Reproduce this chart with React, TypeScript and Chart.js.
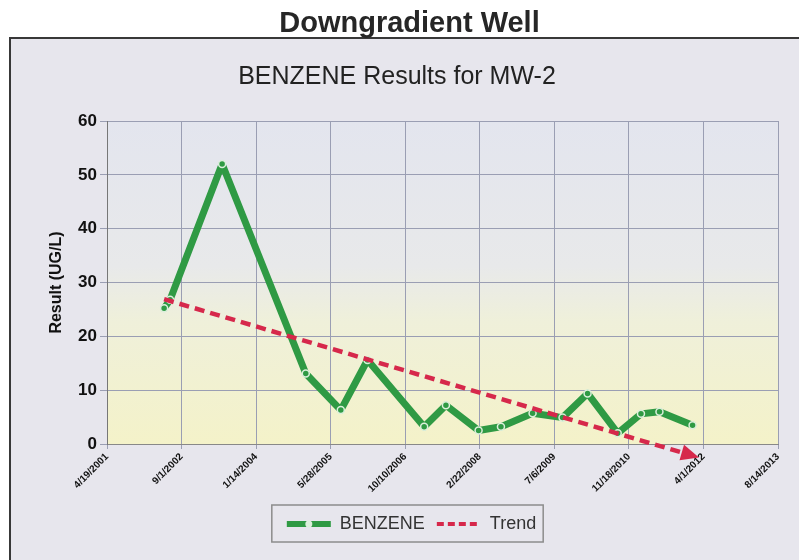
import React, { useEffect, useRef } from "react";
import { Chart, registerables } from "chart.js";

Chart.register(...registerables);

// ---- data ----
const sampleDates = [
  "5/7/2002", "6/16/2002", "5/31/2003", "12/12/2004", "8/4/2005", "1/30/2006",
  "2/14/2007", "7/10/2007", "2/14/2008", "7/13/2008", "2/10/2009", "8/30/2009",
  "2/14/2010", "9/4/2010", "2/7/2011", "6/11/2011", "1/19/2012",
];
const benzeneValues = [
  25.2, 26.8, 52, 13.1, 6.3, 15.6, 3.2, 7.2, 2.5, 3.2, 5.7, 4.9, 9.4, 2.0, 5.6, 6.0, 3.5,
];
const trendDates = ["5/7/2002", "12/29/2011"];
const trendValues = [26.9, -2.0];
const xTickLabels = [
  "4/19/2001", "9/1/2002", "1/14/2004", "5/28/2005", "10/10/2006",
  "2/22/2008", "7/6/2009", "11/18/2010", "4/1/2012", "8/14/2013",
];
const yMin = 0;
const yMax = 60;
const yStep = 10;
const seriesNames = ["BENZENE", "Trend"];

const FONT = '"Liberation Sans", Arial, Helvetica, sans-serif';
const GREEN = "#2f9a44";
const RED = "#d6284b";

function dayOf(s: string): number {
  const [m, d, y] = s.split("/").map(Number);
  return (Date.UTC(y, m - 1, d) - Date.UTC(2001, 3, 19)) / 86400000;
}

const panelPlugin = {
  id: "panelBg",
  beforeDraw(chart: any) {
    const { ctx, width, height, chartArea } = chart;
    ctx.save();
    ctx.fillStyle = "#ffffff";
    ctx.fillRect(0, 0, width, height);
    ctx.fillStyle = "#e7e6ed";
    ctx.fillRect(10, 38, width, height);
    ctx.strokeStyle = "#383838";
    ctx.lineWidth = 2;
    ctx.beginPath();
    ctx.moveTo(10, height + 5);
    ctx.lineTo(10, 38);
    ctx.lineTo(width + 5, 38);
    ctx.stroke();
    const g = ctx.createLinearGradient(0, chartArea.top, 0, chartArea.bottom);
    g.addColorStop(0, "#e3e5ee");
    g.addColorStop(0.45, "#e8e9ea");
    g.addColorStop(0.62, "#eff0da");
    g.addColorStop(1, "#f4f2c9");
    ctx.fillStyle = g;
    ctx.fillRect(chartArea.left, chartArea.top, chartArea.right - chartArea.left, chartArea.bottom - chartArea.top);
    ctx.restore();
  },
};

// arrowhead at the end of the trend line (drawn from the dataset's own scaled points)
const arrowPlugin = {
  id: "trendArrow",
  afterDatasetsDraw(chart: any) {
    const meta = chart.getDatasetMeta(0);
    const pts = meta.data;
    if (!pts || pts.length < 2) return;
    const a = pts[pts.length - 2];
    const b = pts[pts.length - 1];
    const dx = b.x - a.x;
    const dy = b.y - a.y;
    const len = Math.hypot(dx, dy) || 1;
    const ux = dx / len;
    const uy = dy / len;
    const px = -uy;
    const py = ux;
    const tipX = b.x + ux * 10;
    const tipY = b.y + uy * 10;
    const baseX = b.x - ux * 8;
    const baseY = b.y - uy * 8;
    const { ctx } = chart;
    ctx.save();
    ctx.fillStyle = RED;
    ctx.beginPath();
    ctx.moveTo(tipX, tipY);
    ctx.lineTo(baseX + px * 8, baseY + py * 8);
    ctx.lineTo(baseX - px * 8, baseY - py * 8);
    ctx.closePath();
    ctx.fill();
    ctx.restore();
  },
};

const legendBoxPlugin = {
  id: "legendBox",
  afterDraw(chart: any) {
    const lg = chart.legend;
    if (!lg || !lg.legendHitBoxes || !lg.legendHitBoxes.length) return;
    const hb = lg.legendHitBoxes;
    const first = hb[0];
    const last = hb[hb.length - 1];
    const { ctx } = chart;
    ctx.save();
    ctx.strokeStyle = "#8c8c8c";
    ctx.lineWidth = 1.5;
    const left = first.left - 15;
    const right = last.left + last.width + 7;
    const top = first.top - 10;
    const bottom = first.top + first.height + 9;
    ctx.strokeRect(left, top, right - left, bottom - top);
    const cx = first.left + 22;
    const cy = first.top + 9;
    ctx.beginPath();
    ctx.arc(cx, cy, 3.5, 0, Math.PI * 2);
    ctx.fillStyle = "#dcefdc";
    ctx.fill();
    ctx.restore();
  },
};

export default function App() {
  const ref = useRef<HTMLCanvasElement>(null);

  useEffect(() => {
    if (!ref.current) return;
    const benzeneData = sampleDates.map((d, i) => ({ x: dayOf(d), y: benzeneValues[i] }));
    const trendData = trendDates.map((d, i) => ({ x: dayOf(d), y: trendValues[i] }));
    const gridColor = "#9a9eb3";

    const chart = new Chart(ref.current, {
      type: "line",
      data: {
        datasets: [
          {
            label: seriesNames[1],
            data: trendData,
            borderColor: RED,
            backgroundColor: RED,
            borderWidth: 4.5,
            borderDash: [10, 6],
            pointRadius: 0,
            clip: false,
            order: 0,
          } as any,
          {
            label: seriesNames[0],
            data: benzeneData,
            borderColor: GREEN,
            backgroundColor: GREEN,
            borderWidth: 7,
            borderJoinStyle: "round",
            borderCapStyle: "round",
            pointRadius: 3.5,
            pointBackgroundColor: GREEN,
            pointBorderColor: "#dcefdc",
            pointBorderWidth: 1.5,
            tension: 0,
            order: 1,
          } as any,
        ],
      },
      options: {
        animation: false,
        responsive: false,
        maintainAspectRatio: false,
        layout: { padding: { left: 45, right: 21, top: 121, bottom: 17 } },
        plugins: {
          title: { display: false },
          tooltip: { enabled: false },
          legend: {
            display: true,
            position: "bottom",
            labels: {
              usePointStyle: true,
              pointStyleWidth: 44,
              padding: 12,
              color: "#333333",
              font: { family: FONT, size: 18 },
              generateLabels: () => [
                {
                  text: seriesNames[0],
                  pointStyle: "line",
                  strokeStyle: GREEN,
                  fillStyle: GREEN,
                  lineWidth: 6,
                  lineDash: [],
                  fontColor: "#333333",
                  datasetIndex: 1,
                } as any,
                {
                  text: seriesNames[1],
                  pointStyle: "line",
                  strokeStyle: RED,
                  fillStyle: RED,
                  lineWidth: 4,
                  lineDash: [7, 4],
                  fontColor: "#333333",
                  datasetIndex: 0,
                } as any,
              ],
            },
          },
        },
        scales: {
          x: {
            type: "linear",
            min: dayOf(xTickLabels[0]),
            max: dayOf(xTickLabels[xTickLabels.length - 1]),
            afterBuildTicks: (s: any) => {
              s.ticks = xTickLabels.map((l) => ({ value: dayOf(l) }));
            },
            afterFit: (s: any) => {
              s.height = 59;
            },
            ticks: {
              autoSkip: false,
              minRotation: 45,
              maxRotation: 45,
              padding: 2,
              color: "#111111",
              font: { family: FONT, size: 10, weight: "bold" },
              callback: (_v: any, i: number) => xTickLabels[i],
            },
            grid: { color: gridColor, lineWidth: 1, tickLength: 5 },
            border: { color: "#888888" },
          },
          y: {
            min: yMin,
            max: yMax,
            afterFit: (s: any) => {
              s.width = 62;
            },
            ticks: {
              stepSize: yStep,
              padding: 3,
              color: "#111111",
              font: { family: FONT, size: 17, weight: "bold" },
            },
            grid: { color: gridColor, lineWidth: 1, tickLength: 7 },
            border: { color: "#777777" },
            title: {
              display: true,
              text: "Result (UG/L)",
              color: "#111111",
              font: { family: FONT, size: 16, weight: "bold" },
              padding: { top: 2, bottom: 0 },
            },
          },
        },
      },
      plugins: [panelPlugin, arrowPlugin, legendBoxPlugin],
    } as any);

    return () => chart.destroy();
  }, []);

  return (
    <div style={{ position: "absolute", left: 0, top: 0, width: 799, height: 560, overflow: "hidden", background: "#fff" }}>
      <canvas ref={ref} width={799} height={560} style={{ position: "absolute", left: 0, top: 0, width: 799, height: 560 }} />
      <div
        style={{
          position: "absolute", left: 0, width: 819, top: 7.5, textAlign: "center",
          fontFamily: FONT, fontWeight: "bold", fontSize: 29, lineHeight: "29px",
          color: "#262626", whiteSpace: "nowrap",
        }}
      >
        Downgradient Well
      </div>
      <div
        style={{
          position: "absolute", left: 0, width: 794, top: 63, textAlign: "center",
          fontFamily: FONT, fontSize: 25, lineHeight: "25px",
          color: "#222222", whiteSpace: "nowrap",
        }}
      >
        BENZENE Results for MW-2
      </div>
    </div>
  );
}
